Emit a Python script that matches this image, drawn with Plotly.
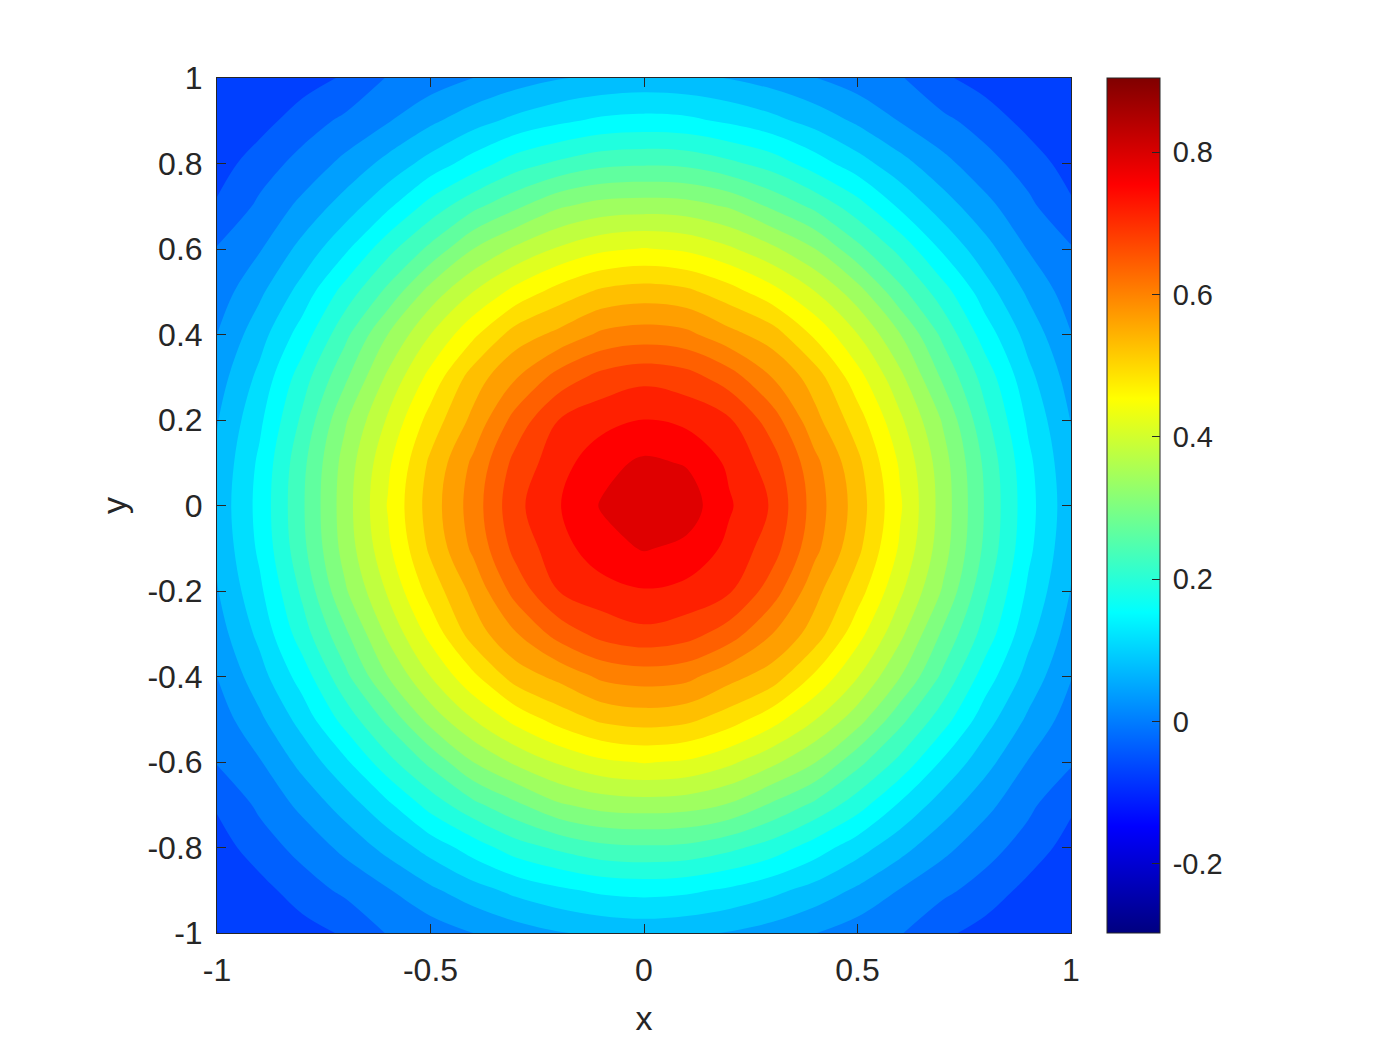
import plotly.graph_objects as go

x_vals = [-1.0,-0.9,-0.8,-0.7,-0.6,-0.5,-0.4,-0.3,-0.2,-0.1,0.0,0.1,0.2,0.3,0.4,0.5,0.6,0.7,0.8,0.9,1.0]
y_vals = [-1.0,-0.9,-0.8,-0.7,-0.6,-0.5,-0.4,-0.3,-0.2,-0.1,0.0,0.1,0.2,0.3,0.4,0.5,0.6,0.7,0.8,0.9,1.0]

# bottom row (y=-1) first
z_vals = [
    [-.098,-.088,-.076,-.055,-.020,-.005,.015,.035,.050,.060,.065,.060,.050,.036,.016,-.004,-.020,-.052,-.075,-.086,-.092],
    [-.088,-.074,-.040,-.015,.012,.045,.075,.100,.120,.135,.140,.135,.121,.100,.076,.046,.013,-.014,-.038,-.072,-.086],
    [-.078,-.040,-.010,.025,.065,.105,.145,.185,.210,.230,.235,.231,.212,.186,.147,.106,.066,.026,-.008,-.038,-.076],
    [-.055,-.015,.025,.070,.120,.180,.230,.270,.310,.330,.335,.331,.312,.272,.232,.182,.122,.072,.026,-.014,-.053],
    [-.020,.012,.065,.120,.190,.250,.315,.360,.395,.420,.430,.423,.398,.362,.317,.252,.192,.122,.066,.013,-.018],
    [-.005,.045,.105,.180,.250,.330,.390,.440,.480,.510,.520,.512,.483,.443,.392,.332,.252,.182,.106,.046,-.003],
    [.015,.075,.145,.230,.315,.390,.457,.520,.550,.585,.595,.588,.553,.522,.459,.392,.316,.232,.146,.076,.017],
    [.035,.100,.185,.270,.360,.440,.520,.575,.630,.665,.680,.668,.634,.578,.523,.442,.362,.271,.186,.101,.036],
    [.050,.120,.210,.310,.395,.480,.550,.630,.690,.712,.725,.716,.694,.634,.553,.482,.397,.311,.211,.121,.051],
    [.060,.135,.230,.330,.420,.510,.585,.665,.712,.750,.768,.756,.718,.670,.588,.512,.422,.331,.231,.136,.061],
    [.065,.140,.235,.335,.430,.520,.595,.680,.725,.768,.792,.785,.732,.686,.598,.523,.432,.336,.236,.141,.066],
    [.060,.135,.230,.330,.420,.510,.585,.665,.712,.752,.772,.762,.720,.670,.588,.512,.422,.331,.231,.136,.061],
    [.050,.120,.210,.310,.395,.480,.550,.630,.690,.714,.728,.718,.694,.634,.552,.482,.397,.311,.211,.121,.051],
    [.035,.100,.185,.270,.360,.440,.520,.575,.630,.665,.680,.668,.633,.577,.522,.442,.362,.271,.186,.101,.036],
    [.015,.075,.145,.230,.315,.390,.457,.520,.550,.585,.595,.587,.552,.521,.458,.391,.316,.231,.146,.076,.016],
    [-.005,.045,.105,.180,.250,.330,.390,.440,.480,.510,.520,.511,.481,.441,.391,.331,.251,.181,.106,.046,-.004],
    [-.020,.012,.065,.120,.190,.250,.315,.360,.395,.420,.430,.421,.396,.361,.316,.251,.191,.121,.066,.013,-.019],
    [-.055,-.015,.025,.070,.120,.180,.230,.270,.310,.330,.335,.331,.311,.271,.231,.181,.121,.071,.026,-.014,-.054],
    [-.078,-.040,-.010,.025,.065,.105,.145,.185,.210,.230,.235,.231,.211,.186,.146,.106,.066,.026,-.009,-.039,-.077],
    [-.090,-.075,-.040,-.015,.012,.045,.075,.100,.120,.135,.140,.136,.121,.101,.076,.046,.013,-.014,-.039,-.073,-.088],
    [-.096,-.090,-.078,-.055,-.020,-.005,.015,.035,.050,.060,.065,.061,.051,.036,.016,-.004,-.019,-.054,-.077,-.088,-.094],
]

x_ticks = [-1,-0.5,0,0.5,1]
x_labels = ['-1','-0.5','0','0.5','1']
y_ticks = [-1,-0.8,-0.6,-0.4,-0.2,0,0.2,0.4,0.6,0.8,1]
y_labels = ['-1','-0.8','-0.6','-0.4','-0.2','0','0.2','0.4','0.6','0.8','1']
cbar_ticks = [-0.2,0,0.2,0.4,0.6,0.8]
cbar_labels = ['-0.2','0','0.2','0.4','0.6','0.8']
z_min = -0.297
z_max = 0.904

jet = [
    [0,'rgb(0,0,128)'],[0.125,'rgb(0,0,255)'],[0.375,'rgb(0,255,255)'],
    [0.625,'rgb(255,255,0)'],[0.875,'rgb(255,0,0)'],[1,'rgb(128,0,0)'],
]

ink = '#262626'
# small lead so the colorbar labels sit off the ticks like the original
pad = '<span style="font-size:21px">&nbsp;</span>'

fig = go.Figure()

# heatmap underneath only to carry the colorbar
fig.add_trace(go.Heatmap(
    x=x_vals,y=y_vals,z=z_vals,zmin=z_min,zmax=z_max,colorscale=jet,hoverinfo='skip',
    colorbar=dict(
        x=1.0427,xanchor='left',xpad=0,y=0.5,yanchor='middle',ypad=0,
        thickness=53,thicknessmode='pixels',len=855,lenmode='pixels',
        outlinecolor=ink,outlinewidth=1,
        ticks='inside',ticklen=8,tickwidth=1,tickcolor=ink,
        tickvals=cbar_ticks,ticktext=[pad+t for t in cbar_labels],
        tickfont=dict(family='Liberation Sans',size=29,color=ink),
    ),
))
# plotly stretches the colorscale over start..end, so the levels span the whole colour range
fig.add_trace(go.Contour(
    x=x_vals,y=y_vals,z=z_vals,colorscale=jet,showscale=False,
    contours=dict(coloring='fill',start=-0.285,end=0.8775,size=0.0375,showlines=False),
    line=dict(width=0),
))

axis = dict(
    showgrid=False,zeroline=False,showline=True,linecolor=ink,linewidth=1,mirror='ticks',
    ticks='inside',ticklen=9,tickwidth=1,tickcolor=ink,
    tickfont=dict(family='Liberation Sans',size=32,color=ink),
    range=[-1,1],
)
fig.update_layout(
    width=1400,height=1050,
    margin=dict(l=216.5,r=328.5,t=78,b=117),
    paper_bgcolor='white',plot_bgcolor='white',
    xaxis=dict(axis,tickvals=x_ticks,ticktext=x_labels,ticklabelstandoff=9,
               title=dict(text='x',font=dict(family='Liberation Sans',size=34,color=ink),standoff=18)),
    yaxis=dict(axis,tickvals=y_ticks,ticktext=y_labels,ticklabelstandoff=7,
               title=dict(text='y',font=dict(family='Liberation Sans',size=34,color=ink),standoff=10)),
)

fig.write_html("out.html",config={'displayModeBar':False},post_script="document.body.style.margin='0'")
